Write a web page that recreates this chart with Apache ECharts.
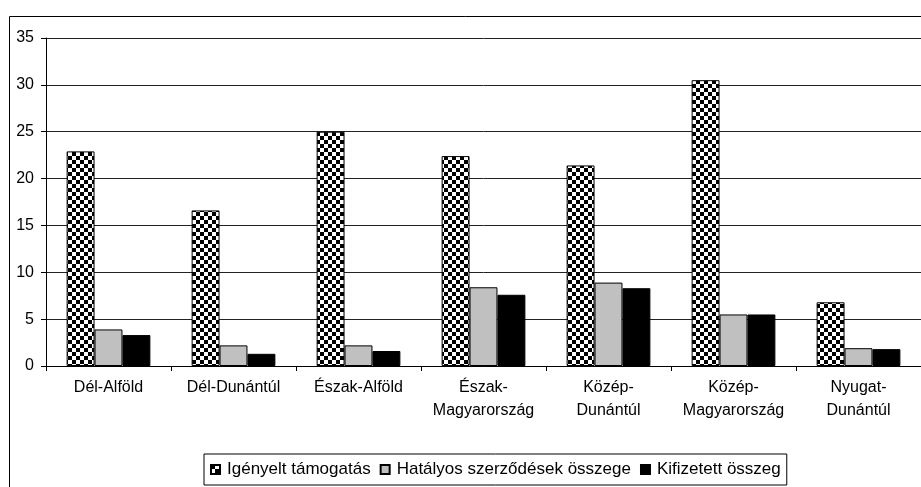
<!DOCTYPE html>
<html>
<head>
<meta charset="utf-8">
<script src="https://cdn.jsdelivr.net/npm/echarts@6/dist/echarts.min.js"></script>
<style>
  html, body { margin: 0; padding: 0; background: #fff; }
  #chart { width: 921px; height: 487px; }
</style>
</head>
<body>
<div id="chart"></div>
<script>
const regions = ["Dél-Alföld", "Dél-Dunántúl", "Észak-Alföld", "Észak-\nMagyarország", "Közép-\nDunántúl", "Közép-\nMagyarország", "Nyugat-\nDunántúl"];
const seriesNames = ["Igényelt támogatás", "Hatályos szerződések összege", "Kifizetett összeg"];
const igenyelt = [22.9, 16.6, 25.0, 22.4, 21.4, 30.5, 6.8];
const hatalyos = [3.9, 2.2, 2.2, 8.4, 8.9, 5.5, 1.9];
const kifizetett = [3.3, 1.3, 1.6, 7.6, 8.3, 5.5, 1.8];

// sakktábla minta a 1. sorozathoz
const cv = document.createElement("canvas");
cv.width = 8;
cv.height = 8;
const ctx = cv.getContext("2d");
ctx.fillStyle = "#fff";
ctx.fillRect(0, 0, 8, 8);
ctx.fillStyle = "#000";
ctx.fillRect(0, 0, 4, 4);
ctx.fillRect(4, 4, 4, 4);
const checker = { image: cv, repeat: "repeat" };

const font = "'Liberation Sans', Arial, sans-serif";
const chart = echarts.init(document.getElementById("chart"));

const option = {
  animation: false,
  textStyle: { fontFamily: font },
  graphic: [
    {
      type: "rect",
      shape: { x: 9.5, y: 16.5, width: 940, height: 500 },
      style: { fill: "none", stroke: "#000", lineWidth: 1 },
      silent: true
    }
  ],
  grid: { left: 46, right: 0, top: 38, bottom: 121 },
  legend: {
    data: seriesNames,
    left: 204,
    top: 454,
    icon: "rect",
    itemWidth: 9,
    itemHeight: 9,
    itemGap: 9,
    padding: [7, 6],
    borderColor: "#000",
    borderWidth: 1,
    textStyle: { fontSize: 17, color: "#000", fontFamily: font, padding: [0, 0, 0, 2] }
  },
  xAxis: {
    type: "category",
    data: regions,
    axisLine: { lineStyle: { color: "#000" } },
    axisTick: { show: true, length: 5, lineStyle: { color: "#000" } },
    axisLabel: { color: "#000", fontSize: 16, margin: 10, lineHeight: 23, interval: 0 }
  },
  yAxis: {
    type: "value",
    min: 0,
    max: 35,
    interval: 5,
    axisLine: { show: true, lineStyle: { color: "#000" } },
    axisTick: { show: true, length: 5, lineStyle: { color: "#000" } },
    axisLabel: { color: "#000", fontSize: 16, margin: 12 },
    splitLine: { lineStyle: { color: "#222" } }
  },
  series: [
    {
      name: seriesNames[0],
      type: "bar",
      data: igenyelt,
      barGap: "0%",
      barCategoryGap: "33%",
      itemStyle: { color: checker, borderColor: "#000", borderWidth: 1 }
    },
    {
      name: seriesNames[1],
      type: "bar",
      data: hatalyos,
      itemStyle: { color: "#c0c0c0", borderColor: "#000", borderWidth: 1 }
    },
    {
      name: seriesNames[2],
      type: "bar",
      data: kifizetett,
      itemStyle: { color: "#000", borderColor: "#000", borderWidth: 1 }
    }
  ]
};

chart.setOption(option);
</script>
</body>
</html>
